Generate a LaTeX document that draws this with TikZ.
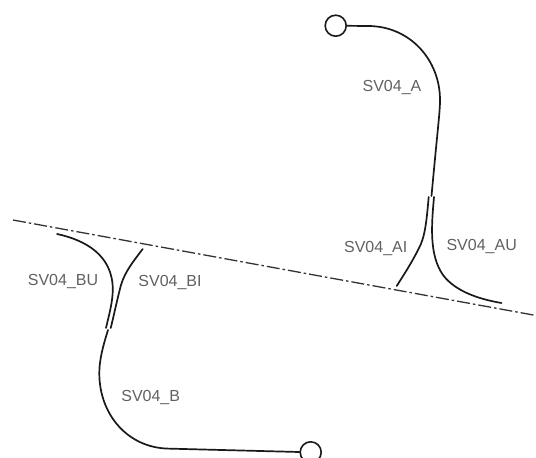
\documentclass[tikz,border=0pt]{standalone}
\usepackage{fontspec}
\setmainfont{Liberation Sans}
\tikzset{
  lab/.style={text=black!62,font=\fontsize{16}{18}\selectfont,inner sep=0pt},
  wire/.style={line width=1.7pt,black!90,line cap=round},
  term/.style={circle,draw=black!90,line width=1.6pt,minimum size=21pt,inner sep=0pt},
  axis/.style={line width=1.3pt,black!80,dash pattern=on 13pt off 3pt on 2.5pt off 3pt}
}
\begin{document}
\begin{tikzpicture}[x=1pt,y=-1pt]
\useasboundingbox (0,0) rectangle (536,458);
\clip (0,0) rectangle (536,458);
\coordinate (axL) at (13,220);
\coordinate (axR) at (536,315.5);
\draw[axis] (axL) -- (axR);
% upper
\node[term] (ta) at (335.7,25.7) {};
\coordinate (a1) at (368,26);
\coordinate (a2) at (440,100);
\coordinate (a3) at (431.5,196);
\draw[wire] (ta) -- (a1) .. controls (410,26) and (440,60) .. (a2) .. controls (440,112) and (438,125) .. (a3);
\coordinate (ai0) at (428.7,197);
\coordinate (ai1) at (396.7,286);
\draw[wire] (ai0) .. controls (426.5,222) and (425,238) .. (418,250) .. controls (412,262) and (405,273) .. (ai1);
\coordinate (au0) at (434,197);
\coordinate (au1) at (501.5,303);
\draw[wire] (au0) .. controls (431.5,225) and (429,255) .. (443,275) .. controls (455,291) and (478,299) .. (au1);
% lower
\node[term] (tb) at (310.7,452.3) {};
\coordinate (b1) at (108,330);
\coordinate (b2) at (99.3,373);
\coordinate (b3) at (168,448.6);
\draw[wire] (b1) .. controls (103,346) and (99.3,360) .. (b2) .. controls (99.3,415) and (128,447.6) .. (b3) -- (tb);
\coordinate (bu0) at (57,234);
\coordinate (bu1) at (106,328);
\draw[wire] (bu0) .. controls (85,240) and (113,255) .. (112.8,290) .. controls (112.5,303) and (109,315) .. (bu1);
\coordinate (bi0) at (142.7,249);
\coordinate (bi1) at (110.7,328);
\draw[wire] (bi0) .. controls (132,263) and (125,272) .. (121,285) .. controls (117,300) and (114,315) .. (bi1);
% labels
\node[lab] (la) at (392,88) {SV04\_A};
\node[lab] (lai) at (375.7,249) {SV04\_AI};
\node[lab] (lau) at (481.7,247) {SV04\_AU};
\node[lab] (lbu) at (63,282) {SV04\_BU};
\node[lab] (lbi) at (170,283) {SV04\_BI};
\node[lab] (lb) at (150.7,397.7) {SV04\_B};
\end{tikzpicture}
\end{document}
